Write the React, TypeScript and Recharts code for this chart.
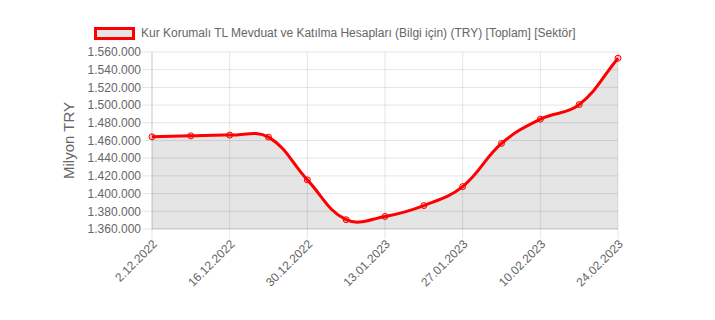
import React from 'react';
import { AreaChart, Area, XAxis, YAxis, CartesianGrid } from 'recharts';

const dates = [
  '2.12.2022', '9.12.2022', '16.12.2022', '23.12.2022', '30.12.2022', '6.01.2023',
  '13.01.2023', '20.01.2023', '27.01.2023', '3.02.2023', '10.02.2023', '17.02.2023', '24.02.2023',
];
const values = [
  1464200, 1465300, 1466100, 1463800, 1415500, 1370500,
  1374200, 1386500, 1407900, 1456700, 1484100, 1500600, 1553000,
];
const xTickLabels = ['2.12.2022', '16.12.2022', '30.12.2022', '13.01.2023', '27.01.2023', '10.02.2023', '24.02.2023'];
const yTicks = [1360000, 1380000, 1400000, 1420000, 1440000, 1460000, 1480000, 1500000, 1520000, 1540000, 1560000];
const seriesName = 'Kur Korumalı TL Mevduat ve Katılma Hesapları (Bilgi için) (TRY) [Toplam] [Sektör]';
const axisTitle = 'Milyon TRY';

const data = dates.map((d, i) => ({ date: d, value: values[i] }));

const fmt = (n: number) => String(n).replace(/\B(?=(\d{3})+(?!\d))/g, '.');

// Chart.js-style spline (tension 0.4) as a d3 curve factory
const TENSION = 0.4;
function chartJsCurve(context: any) {
  let line = NaN;
  let pts: number[][] = [];
  return {
    areaStart() { line = 0; },
    areaEnd() { line = NaN; },
    lineStart() { pts = []; },
    point(x: number, y: number) { pts.push([+x, +y]); },
    lineEnd() {
      const n = pts.length;
      if (n) {
        if (line) context.lineTo(pts[0][0], pts[0][1]);
        else context.moveTo(pts[0][0], pts[0][1]);
        const cps = pts.map((cur, i) => {
          const prev = pts[i - 1] || cur;
          const next = pts[i + 1] || cur;
          const d01 = Math.hypot(cur[0] - prev[0], cur[1] - prev[1]);
          const d12 = Math.hypot(next[0] - cur[0], next[1] - cur[1]);
          let s01 = d01 / (d01 + d12);
          let s12 = d12 / (d01 + d12);
          if (!isFinite(s01)) s01 = 0;
          if (!isFinite(s12)) s12 = 0;
          const fa = TENSION * s01;
          const fb = TENSION * s12;
          return {
            p: [cur[0] - fa * (next[0] - prev[0]), cur[1] - fa * (next[1] - prev[1])],
            n: [cur[0] + fb * (next[0] - prev[0]), cur[1] + fb * (next[1] - prev[1])],
          };
        });
        for (let i = 1; i < n; i++) {
          context.bezierCurveTo(cps[i - 1].n[0], cps[i - 1].n[1], cps[i].p[0], cps[i].p[1], pts[i][0], pts[i][1]);
        }
      }
      if (line || (line !== 0 && n === 1)) context.closePath();
      line = 1 - line;
    },
  };
}

const XTick = (props: any) => {
  const { x, y, payload } = props;
  const ax = x + 3;
  const ay = y + 2;
  return (
    <text x={ax} y={ay} transform={`rotate(-45 ${ax} ${ay})`} textAnchor="end" dominantBaseline="central"
      fill="#666" fontSize={12} fontFamily="'Liberation Sans', Arial, sans-serif">
      {payload.value}
    </text>
  );
};

const YLabel = (props: any) => {
  const vb = props.viewBox || { x: 0, y: 0, width: 0, height: 0 };
  const cx = vb.x + 68;
  const cy = vb.y + vb.height / 2;
  return (
    <text x={cx} y={cy} transform={`rotate(-90 ${cx} ${cy})`} textAnchor="middle" dominantBaseline="central"
      fill="#666" fontSize={15} fontFamily="'Liberation Sans', Arial, sans-serif">
      {axisTitle}
    </text>
  );
};

export default function App() {
  return (
    <div style={{ position: 'absolute', left: 0, top: 0, width: 715, height: 320, background: '#fff' }}>
      <div style={{ position: 'absolute', left: 94, top: 26, display: 'flex', alignItems: 'center',
        fontFamily: "'Liberation Sans', Arial, sans-serif", fontSize: 12, color: '#666', whiteSpace: 'nowrap' }}>
        <div style={{ width: 35, height: 7, border: '3px solid #ff0000', background: '#e5e5e5', marginRight: 6 }} />
        <span>{seriesName}</span>
      </div>
      <AreaChart width={715} height={320} data={data} margin={{ top: 52, right: 97, bottom: 0, left: 0 }}>
        <CartesianGrid stroke="rgba(0,0,0,0.1)" />
        <XAxis dataKey="date" ticks={xTickLabels} interval={0} height={91} tick={<XTick />}
          axisLine={{ stroke: 'rgba(0,0,0,0.1)' }} tickLine={{ stroke: 'rgba(0,0,0,0.1)' }} tickSize={10} tickMargin={1} />
        <YAxis domain={[1360000, 1560000]} ticks={yTicks} width={152} tickFormatter={fmt}
          tick={{ fill: '#666', fontSize: 12, fontFamily: "'Liberation Sans', Arial, sans-serif" }}
          axisLine={{ stroke: 'rgba(0,0,0,0.1)' }} tickLine={{ stroke: 'rgba(0,0,0,0.1)' }} tickSize={10} tickMargin={1}
          interval={0} allowDataOverflow label={<YLabel />} />
        <Area dataKey="value" type={chartJsCurve as any} stroke="#ff0000" strokeWidth={3}
          fill="#000" fillOpacity={0.1} isAnimationActive={false}
          dot={{ r: 3, stroke: '#ff0000', strokeWidth: 1, fill: 'rgba(255,0,0,0.2)', fillOpacity: 1 }}
          activeDot={false} />
      </AreaChart>
    </div>
  );
}
